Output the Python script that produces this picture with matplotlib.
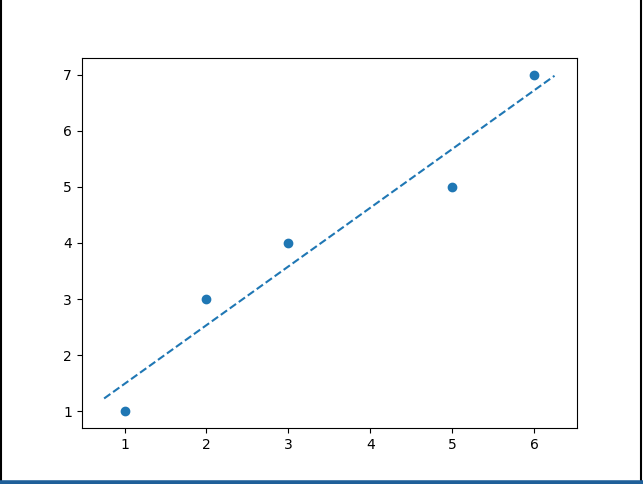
from matplotlib import pyplot as plt
from matplotlib.lines import Line2D
import numpy as np

x = np.array([1, 2, 3, 5, 6])
y = np.array([1, 3, 4, 5, 7])

fig = plt.figure(figsize=(6.43, 4.84), dpi=100)
ax = fig.add_axes([0.1269, 0.1157, 0.7705, 0.7645])

ax.scatter(x, y)

# least squares fit, drawn slightly past the data
slope, intercept = np.polyfit(x, y, 1)
xf = np.linspace(x.min() - 0.25, x.max() + 0.25, 100)
ax.plot(xf, slope * xf + intercept, "--")

# screenshot frame
fig.add_artist(Line2D([0.001, 0.001], [0, 1], color="black", lw=1.5, transform=fig.transFigure))
fig.add_artist(Line2D([0.997, 0.997], [0, 1], color="black", lw=1.5, transform=fig.transFigure))
fig.add_artist(Line2D([0, 1], [0.003, 0.003], color="#1f5f99", lw=4, transform=fig.transFigure))

fig.savefig("out.png", dpi=100)
plt.close()
